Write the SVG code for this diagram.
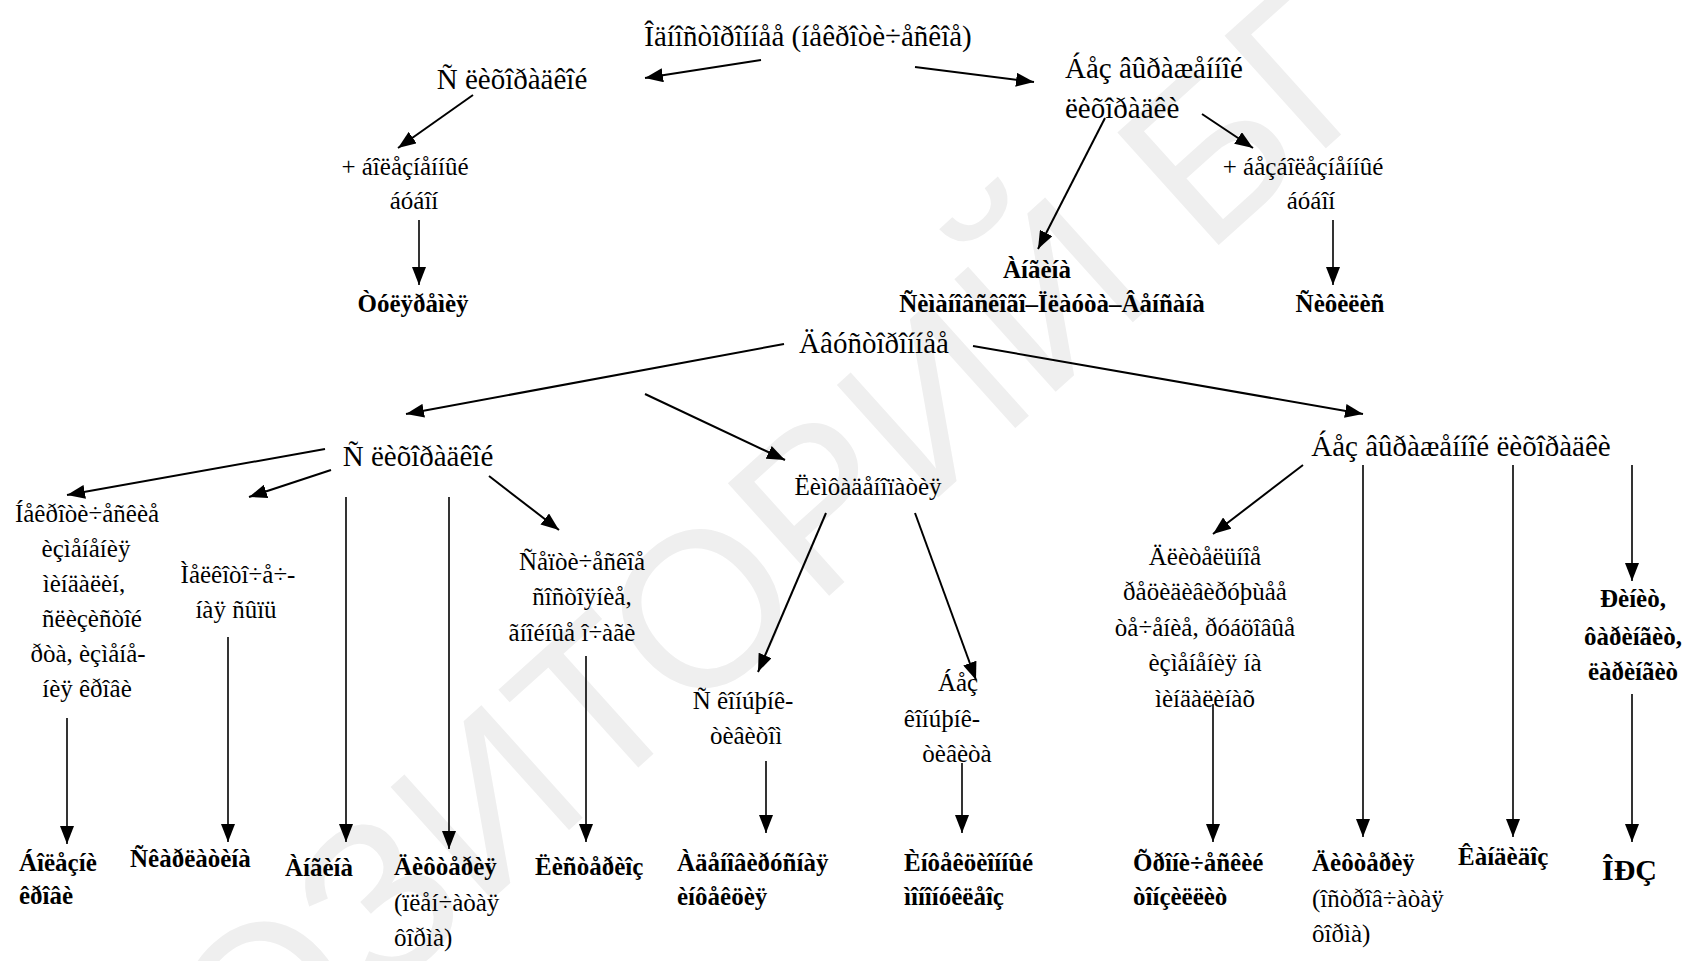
<svg xmlns="http://www.w3.org/2000/svg" width="1686" height="961" viewBox="0 0 1686 961">
<style>
text{font-family:"Liberation Serif","Times New Roman",serif;fill:#000}
.h{font-size:29px}
.s{font-size:25px}
.b{font-size:25px;font-weight:bold}
.m{text-anchor:middle}
.wm{font-family:"Liberation Sans",Arial,sans-serif;font-size:220px;fill:#efefef}
#connectors line{stroke:#000;stroke-width:2}
#connectors line.v{stroke-width:1.6}
</style>
<defs>
<marker id="ah" markerWidth="18" markerHeight="14" refX="18" refY="7" orient="auto" markerUnits="userSpaceOnUse"><path d="M0,0 L18,7 L0,14 z" fill="#000"/></marker>
</defs>
<rect width="1686" height="961" fill="#fff"/>
<g id="watermark"><text class="wm" transform="translate(-83,1417) rotate(-42)">РЕПОЗИТОРИЙ БГ</text></g>
<g id="connectors">
<line x1="761" y1="60" x2="645" y2="78" marker-end="url(#ah)"/>
<line x1="915" y1="67" x2="1034" y2="82" marker-end="url(#ah)"/>
<line x1="473" y1="95" x2="398" y2="148" marker-end="url(#ah)"/>
<line class="v" x1="419" y1="220" x2="419" y2="285" marker-end="url(#ah)"/>
<line x1="1105" y1="118" x2="1038" y2="249" marker-end="url(#ah)"/>
<line x1="1202" y1="114" x2="1253" y2="148" marker-end="url(#ah)"/>
<line class="v" x1="1333" y1="220" x2="1333" y2="285" marker-end="url(#ah)"/>
<line x1="784" y1="344" x2="406" y2="414" marker-end="url(#ah)"/>
<line x1="645" y1="394" x2="785" y2="460" marker-end="url(#ah)"/>
<line x1="973" y1="346" x2="1363" y2="414" marker-end="url(#ah)"/>
<line x1="325" y1="449" x2="67" y2="495" marker-end="url(#ah)"/>
<line x1="331" y1="470" x2="249" y2="497" marker-end="url(#ah)"/>
<line class="v" x1="346" y1="497" x2="346" y2="842" marker-end="url(#ah)"/>
<line class="v" x1="449" y1="497" x2="449" y2="849" marker-end="url(#ah)"/>
<line x1="489" y1="476" x2="559" y2="530" marker-end="url(#ah)"/>
<line class="v" x1="67" y1="718" x2="67" y2="844" marker-end="url(#ah)"/>
<line class="v" x1="228" y1="637" x2="228" y2="842" marker-end="url(#ah)"/>
<line class="v" x1="586" y1="656" x2="586" y2="842" marker-end="url(#ah)"/>
<line x1="826" y1="513" x2="758" y2="672" marker-end="url(#ah)"/>
<line x1="915" y1="513" x2="976" y2="680" marker-end="url(#ah)"/>
<line class="v" x1="766" y1="761" x2="766" y2="833" marker-end="url(#ah)"/>
<line class="v" x1="962" y1="763" x2="962" y2="833" marker-end="url(#ah)"/>
<line x1="1303" y1="465" x2="1213" y2="534" marker-end="url(#ah)"/>
<line class="v" x1="1213" y1="704" x2="1213" y2="842" marker-end="url(#ah)"/>
<line class="v" x1="1363" y1="465" x2="1363" y2="837" marker-end="url(#ah)"/>
<line class="v" x1="1513" y1="465" x2="1513" y2="837" marker-end="url(#ah)"/>
<line class="v" x1="1632" y1="465" x2="1632" y2="581" marker-end="url(#ah)"/>
<line class="v" x1="1632" y1="694" x2="1632" y2="842" marker-end="url(#ah)"/>
</g>
<g id="n-root"><text class="h m" x="808" y="46">Îäíîñòîðîííåå (íåêðîòè÷åñêîå)</text></g>
<g id="n-fever1"><text class="h m" x="512" y="89">Ñ ëèõîðàäêîé</text></g>
<g id="n-nofever1"><text class="h" x="1065" y="78">Áåç âûðàæåííîé</text><text class="h" x="1065" y="118">ëèõîðàäêè</text></g>
<g id="n-painbubo"><text class="s m" x="405" y="175">+ áîëåçíåííûé</text><text class="s m" x="414" y="209">áóáîí</text></g>
<g id="n-tular"><text class="b m" x="413" y="312">Òóëÿðåìèÿ</text></g>
<g id="n-painless"><text class="s m" x="1303" y="175">+ áåçáîëåçíåííûé</text><text class="s m" x="1311" y="209">áóáîí</text></g>
<g id="n-vincent"><text class="b m" x="1037" y="278">Àíãèíà</text><text class="b m" x="1052" y="312">Ñèìàíîâñêîãî–Ïëàóòà–Âåíñàíà</text></g>
<g id="n-syph"><text class="b m" x="1340" y="312">Ñèôèëèñ</text></g>
<g id="n-bilat"><text class="h m" x="874" y="353">Äâóñòîðîííåå</text></g>
<g id="n-fever2"><text class="h m" x="418" y="466">Ñ ëèõîðàäêîé</text></g>
<g id="n-lymph"><text class="s m" x="868" y="495">Ëèìôàäåíîïàòèÿ</text></g>
<g id="n-nofever2"><text class="h m" x="1461" y="456">Áåç âûðàæåííîé ëèõîðàäêè</text></g>
<g id="n-necro"><text class="s m" x="87" y="522">Íåêðîòè÷åñêèå</text><text class="s m" x="86" y="557">èçìåíåíèÿ</text><text class="s m" x="84" y="592">ìèíäàëèí,</text><text class="s m" x="92" y="627">ñëèçèñòîé</text><text class="s m" x="88" y="662">ðòà, èçìåíå-</text><text class="s m" x="87" y="697">íèÿ êðîâè</text></g>
<g id="n-rash"><text class="s m" x="238" y="583">Ìåëêîòî÷å÷-</text><text class="s m" x="236" y="618">íàÿ ñûïü</text></g>
<g id="n-septic"><text class="s m" x="582" y="570">Ñåïòè÷åñêîå</text><text class="s m" x="582" y="605">ñîñòîÿíèå,</text><text class="s m" x="572" y="641">ãíîéíûå î÷àãè</text></g>
<g id="n-conj"><text class="s m" x="743" y="709">Ñ êîíúþíê-</text><text class="s m" x="746" y="744">òèâèòîì</text></g>
<g id="n-noconj"><text class="s m" x="958" y="691">Áåç</text><text class="s m" x="942" y="727">êîíúþíê-</text><text class="s m" x="957" y="762">òèâèòà</text></g>
<g id="n-long"><text class="s m" x="1205" y="565">Äëèòåëüíîå</text><text class="s m" x="1205" y="600">ðåöèäèâèðóþùåå</text><text class="s m" x="1205" y="636">òå÷åíèå, ðóáöîâûå</text><text class="s m" x="1205" y="671">èçìåíåíèÿ íà</text><text class="s m" x="1205" y="707">ìèíäàëèíàõ</text></g>
<g id="n-rhin"><text class="b m" x="1633" y="607">Ðèíèò,</text><text class="b m" x="1633" y="645">ôàðèíãèò,</text><text class="b m" x="1633" y="680">ëàðèíãèò</text></g>
<g id="n-blood"><text class="b" x="19" y="871">Áîëåçíè</text><text class="b" x="19" y="904">êðîâè</text></g>
<g id="n-scarl"><text class="b" x="130" y="867">Ñêàðëàòèíà</text></g>
<g id="n-angina"><text class="b" x="285" y="876">Àíãèíà</text></g>
<g id="n-diph1"><text class="b" x="394" y="875">Äèôòåðèÿ</text><text class="s" x="394" y="911">(ïëåí÷àòàÿ</text><text class="s" x="394" y="946">ôîðìà)</text></g>
<g id="n-list"><text class="b" x="535" y="875">Ëèñòåðèîç</text></g>
<g id="n-adeno"><text class="b" x="677" y="871">Àäåíîâèðóñíàÿ</text><text class="b" x="677" y="905">èíôåêöèÿ</text></g>
<g id="n-mono"><text class="b" x="904" y="871">Èíôåêöèîííûé</text><text class="b" x="904" y="905">ìîíîíóêëåîç</text></g>
<g id="n-chron"><text class="b" x="1133" y="871">Õðîíè÷åñêèé</text><text class="b" x="1133" y="905">òîíçèëëèò</text></g>
<g id="n-diph2"><text class="b" x="1312" y="871">Äèôòåðèÿ</text><text class="s" x="1312" y="907">(îñòðîâ÷àòàÿ</text><text class="s" x="1312" y="942">ôîðìà)</text></g>
<g id="n-cand"><text class="b" x="1458" y="865">Êàíäèäîç</text></g>
<g id="n-orz"><text class="b" x="1602" y="880" style="font-size:30px">ÎÐÇ</text></g>
</svg>
